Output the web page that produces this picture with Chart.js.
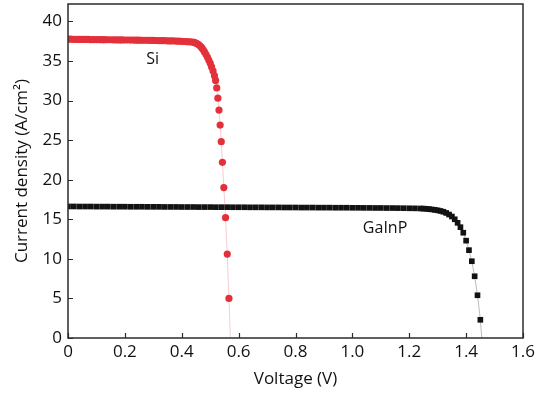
<!DOCTYPE html>
<html>
<head>
<meta charset="utf-8">
<script src="https://cdn.jsdelivr.net/npm/chart.js@4.4.1/dist/chart.umd.min.js"></script>
<style>
    html, body { margin: 0; padding: 0; background: #fff; }
    #wrap { width: 549px; height: 393px; position: relative; }
</style>
</head>
<body>
<div id="wrap"><canvas id="chart1"></canvas></div>
<script>
// Si kurve (spænding i V, strømtæthed i A/cm2)
const siVoltage = [
    0.00, 0.01, 0.02, 0.03, 0.04, 0.05, 0.06, 0.07, 0.08, 0.09,
    0.10, 0.11, 0.12, 0.13, 0.14, 0.15, 0.16, 0.17, 0.18, 0.19,
    0.20, 0.21, 0.22, 0.23, 0.24, 0.25, 0.26, 0.27, 0.28, 0.29,
    0.30, 0.31, 0.32, 0.33, 0.34, 0.35, 0.36, 0.37, 0.38, 0.39,
    0.40, 0.41, 0.42, 0.43, 0.44,
    0.445, 0.45, 0.455, 0.46, 0.465, 0.47, 0.475, 0.48, 0.485, 0.49,
    0.495, 0.50, 0.505, 0.51, 0.515, 0.519, 0.523, 0.527, 0.531, 0.535,
    0.539, 0.543, 0.548, 0.554, 0.560, 0.566, 0.571
];
const siCurrent = [
    37.75, 37.75, 37.74, 37.74, 37.73, 37.73, 37.72, 37.72, 37.71, 37.71,
    37.70, 37.70, 37.69, 37.69, 37.68, 37.68, 37.67, 37.67, 37.66, 37.66,
    37.65, 37.65, 37.64, 37.64, 37.63, 37.63, 37.62, 37.62, 37.61, 37.60,
    37.60, 37.59, 37.58, 37.57, 37.56, 37.55, 37.54, 37.53, 37.52, 37.50,
    37.48, 37.46, 37.44, 37.41, 37.38,
    37.33, 37.27, 37.18, 37.05, 36.88, 36.68, 36.44, 36.15, 35.85, 35.50,
    35.12, 34.72, 34.25, 33.75, 33.15, 32.55, 31.60, 30.30, 28.80, 26.90,
    24.80, 22.20, 19.00, 15.20, 10.60, 5.00, 0.00
];

// GaInP kurve
const gainpVoltage = [
    0.00, 0.02, 0.04, 0.06, 0.08, 0.10, 0.12, 0.14, 0.16, 0.18,
    0.20, 0.22, 0.24, 0.26, 0.28, 0.30, 0.32, 0.34, 0.36, 0.38,
    0.40, 0.42, 0.44, 0.46, 0.48, 0.50, 0.52, 0.54, 0.56, 0.58,
    0.60, 0.62, 0.64, 0.66, 0.68, 0.70, 0.72, 0.74, 0.76, 0.78,
    0.80, 0.82, 0.84, 0.86, 0.88, 0.90, 0.92, 0.94, 0.96, 0.98,
    1.00, 1.02, 1.04, 1.06, 1.08, 1.10, 1.12, 1.14, 1.16, 1.18,
    1.20, 1.22, 1.24, 1.25, 1.26, 1.27, 1.28, 1.29, 1.30, 1.31,
    1.32, 1.33, 1.34, 1.35, 1.36, 1.37, 1.38, 1.39, 1.40, 1.41,
    1.42, 1.43, 1.44, 1.45, 1.455
];
const gainpCurrent = [
    16.62, 16.62, 16.61, 16.61, 16.61, 16.60, 16.60, 16.60, 16.59, 16.59,
    16.59, 16.58, 16.58, 16.58, 16.57, 16.57, 16.57, 16.56, 16.56, 16.56,
    16.55, 16.55, 16.55, 16.54, 16.54, 16.54, 16.53, 16.53, 16.53, 16.52,
    16.52, 16.52, 16.51, 16.51, 16.51, 16.50, 16.50, 16.50, 16.49, 16.49,
    16.49, 16.48, 16.48, 16.48, 16.47, 16.47, 16.47, 16.46, 16.46, 16.46,
    16.45, 16.45, 16.44, 16.44, 16.43, 16.43, 16.42, 16.42, 16.41, 16.40,
    16.39, 16.38, 16.36, 16.35, 16.32, 16.28, 16.24, 16.19, 16.13, 16.05,
    15.95, 15.80, 15.60, 15.35, 15.00, 14.55, 14.00, 13.30, 12.30, 11.10,
    9.70, 7.80, 5.40, 2.30, 0.00
];

// akser og tekster
const xTicks = [0, 0.2, 0.4, 0.6, 0.8, 1.0, 1.2, 1.4, 1.6];
const xTickLabels = ['0', '0.2', '0.4', '0.6', '0.8', '1.0', '1.2', '1.4', '1.6'];
const yTicks = [0, 5, 10, 15, 20, 25, 30, 35, 40];
const curveNames = ['Si', 'GaInP'];
const curveLabelX = [0.298, 1.115];
const curveLabelY = [35.2, 13.9];

const FONT = "'Open Sans', sans-serif";

function toPoints(xs, ys) {
    return xs.map((x, i) => ({ x: x, y: ys[i] }));
}

// sidste punkt på hver kurve er kun linjen ned til aksen (ingen markør)
function radiusFor(size) {
    return (c) => c.dataIndex === c.dataset.data.length - 1 ? 0 : size;
}

// fjerner den ekstra plads Chart.js reserverer til halve tick-labels
function noEdgePadding(s) {
    s.paddingTop = 0;
    s.paddingBottom = 0;
    s.paddingLeft = 0;
    s.paddingRight = 0;
}

// tegner rammen, indvendige tick-streger og kurvenavne
const frameAndLabels = {
    id: 'frameAndLabels',
    afterDraw(chart) {
        const { ctx, chartArea: a, scales: { x, y } } = chart;
        ctx.save();
        ctx.strokeStyle = '#2b2b2b';
        ctx.lineWidth = 1.5;
        ctx.strokeRect(a.left, a.top, a.right - a.left, a.bottom - a.top);

        ctx.lineWidth = 1.2;
        ctx.beginPath();
        xTicks.forEach(v => {
            const px = Math.round(x.getPixelForValue(v)) + 0.5;
            ctx.moveTo(px, a.bottom);
            ctx.lineTo(px, a.bottom - 5);
        });
        yTicks.forEach(v => {
            const py = Math.round(y.getPixelForValue(v)) + 0.5;
            ctx.moveTo(a.left, py);
            ctx.lineTo(a.left + 5, py);
        });
        ctx.stroke();

        ctx.fillStyle = '#111';
        ctx.font = '16px ' + FONT;
        ctx.textAlign = 'center';
        ctx.textBaseline = 'middle';
        curveNames.forEach((t, i) => {
            ctx.fillText(t, x.getPixelForValue(curveLabelX[i]), y.getPixelForValue(curveLabelY[i]));
        });
        ctx.restore();
    }
};

const ctx = document.querySelector('#chart1');
new Chart(ctx, {
    type: 'scatter',
    data: {
        datasets: [
            {
                label: 'GaInP',
                data: toPoints(gainpVoltage, gainpCurrent),
                showLine: true,
                borderColor: 'rgba(60,60,60,0.35)',
                borderWidth: 1,
                pointStyle: 'rect',
                pointRadius: radiusFor(4),
                pointBackgroundColor: '#121212',
                pointBorderWidth: 0
            },
            {
                label: 'Si',
                data: toPoints(siVoltage, siCurrent),
                showLine: true,
                borderColor: 'rgba(225,110,120,0.35)',
                borderWidth: 1,
                pointStyle: 'circle',
                pointRadius: radiusFor(3.6),
                pointBackgroundColor: '#e3303a',
                pointBorderWidth: 0
            }
        ]
    },
    options: {
        responsive: true,
        maintainAspectRatio: false,
        animation: false,
        layout: { padding: { left: 12, top: 4, right: 26, bottom: 4 } },
        scales: {
            x: {
                type: 'linear',
                min: 0,
                max: 1.6,
                grid: { display: false, drawTicks: false },
                border: { display: false },
                afterBuildTicks: (s) => { s.ticks = xTicks.map(v => ({ value: v })); },
                afterFit: (s) => { s.height = 51; noEdgePadding(s); },
                ticks: {
                    color: '#111',
                    padding: 4,
                    maxRotation: 0,
                    font: { family: FONT, size: 17 },
                    callback: (v) => xTickLabels[xTicks.indexOf(v)]
                },
                title: {
                    display: true,
                    text: 'Voltage (V)',
                    color: '#111',
                    padding: { top: 0, bottom: 0 },
                    font: { family: FONT, size: 17 }
                }
            },
            y: {
                type: 'linear',
                min: 0,
                max: 42.2,
                grid: { display: false, drawTicks: false },
                border: { display: false },
                afterBuildTicks: (s) => { s.ticks = yTicks.map(v => ({ value: v })); },
                afterFit: (s) => { s.width = 56; noEdgePadding(s); },
                ticks: {
                    color: '#111',
                    padding: 6,
                    font: { family: FONT, size: 17 }
                },
                title: {
                    display: true,
                    text: 'Current density (A/cm²)',
                    color: '#111',
                    padding: { top: 0, bottom: 0 },
                    font: { family: FONT, size: 17 }
                }
            }
        },
        plugins: {
            legend: { display: false },
            tooltip: { enabled: false }
        }
    },
    plugins: [frameAndLabels]
});
</script>
</body>
</html>
